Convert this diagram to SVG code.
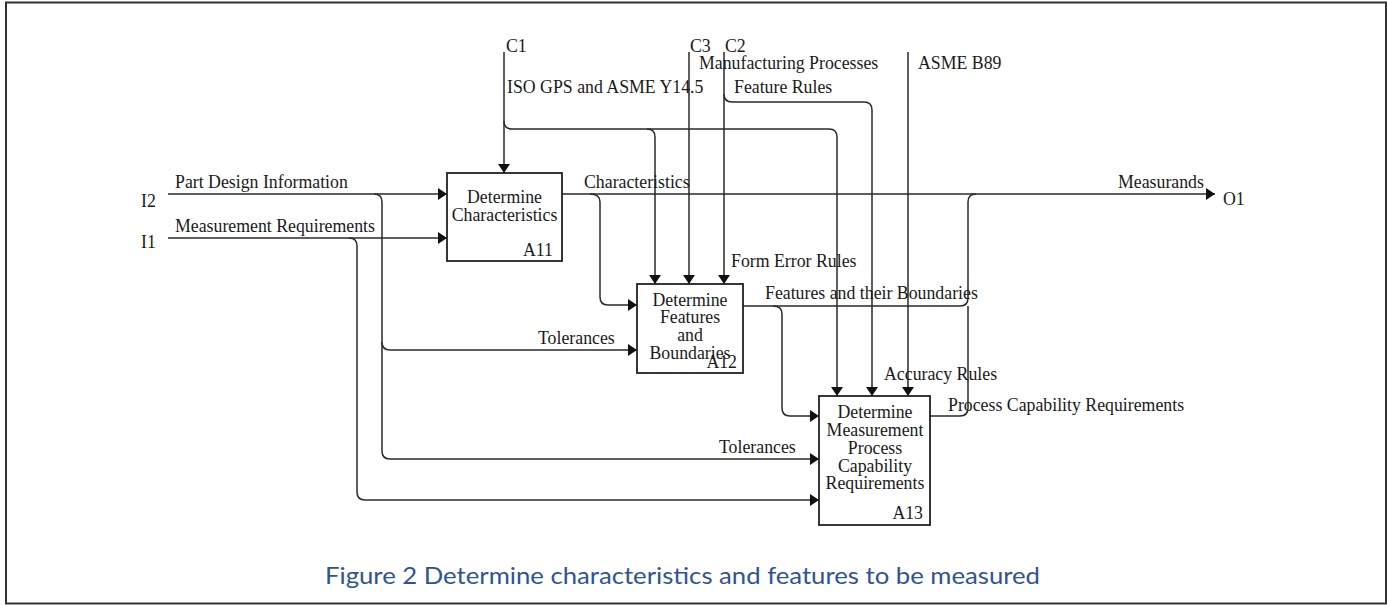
<svg xmlns="http://www.w3.org/2000/svg" width="1387" height="605" viewBox="0 0 1387 605">
<defs>
<marker id="ah" markerUnits="userSpaceOnUse" markerWidth="10" markerHeight="12" refX="9" refY="6" orient="auto">
<path d="M0,0 L9,6 L0,12 z" fill="#111"/>
</marker>
<style>
.t{font-family:"Liberation Serif","Times New Roman",serif;font-size:17.8px;fill:#1a1a1a}
.c{text-anchor:middle}
.r{text-anchor:end}
.box{fill:#fff;stroke:#222;stroke-width:1.8}
.ln{fill:none;stroke:#2a2a2a;stroke-width:1.5}
.arr{marker-end:url(#ah)}
.cap{font-family:"Lato","Open Sans","Liberation Sans",sans-serif;font-size:24px;fill:#2F5496}
</style>
</defs>
<rect x="0" y="0" width="1387" height="605" fill="#fff"/>
<rect x="6" y="2.5" width="1380" height="601" fill="none" stroke="#333" stroke-width="2"/>

<g id="connectors">
<path class="ln arr" d="M168,194 H447"/>
<path class="ln arr" d="M168,238 H447"/>
<path class="ln arr" d="M374,194 Q382,194 382,202 V451 Q382,459 390,459 H819"/>
<path class="ln arr" d="M382,342 Q382,350 390,350 H637"/>
<path class="ln arr" d="M349,238 Q357,238 357,246 V492 Q357,500 365,500 H819"/>
<path class="ln arr" d="M504,52 V173"/>
<path class="ln arr" d="M504,121 Q504,129 512,129 H647 Q655,129 655,137 V284"/>
<path class="ln arr" d="M647,129 H829 Q837,129 837,137 V396"/>
<path class="ln arr" d="M689,52 V284"/>
<path class="ln arr" d="M724,52 V284"/>
<path class="ln arr" d="M724,94 Q724,102 732,102 H864 Q872,102 872,110 V396"/>
<path class="ln arr" d="M908,52 V396"/>
<path class="ln arr" d="M562,194 H1215"/>
<path class="ln arr" d="M590,194 Q600,194 600,202 V297 Q600,305 608,305 H637"/>
<path class="ln" d="M743,306 H960 Q968,306 968,298 V202 Q968,194 976,194"/>
<path class="ln" d="M930,416 H960 Q968,416 968,408 V306"/>
<path class="ln arr" d="M773,306 Q782,306 782,314 V408 Q782,416 790,416 H819"/>
</g>

<g id="labels">
<text class="t" x="141" y="207">I2</text>
<text class="t" x="141" y="248">I1</text>
<text class="t" x="175" y="188">Part Design Information</text>
<text class="t" x="175" y="232">Measurement Requirements</text>
<text class="t" x="506" y="52">C1</text>
<text class="t" x="690" y="52">C3</text>
<text class="t" x="725" y="52">C2</text>
<text class="t" x="507" y="93">ISO GPS and ASME Y14.5</text>
<text class="t" x="699" y="69">Manufacturing Processes</text>
<text class="t" x="734" y="93">Feature Rules</text>
<text class="t" x="918" y="69">ASME B89</text>
<text class="t" x="584" y="188">Characteristics</text>
<text class="t" x="731" y="267">Form Error Rules</text>
<text class="t" x="1118" y="188">Measurands</text>
<text class="t" x="1223" y="205">O1</text>
<text class="t" x="765" y="299">Features and their Boundaries</text>
<text class="t" x="538" y="344">Tolerances</text>
<text class="t" x="719" y="453">Tolerances</text>
<text class="t" x="884" y="380">Accuracy Rules</text>
<text class="t" x="948" y="411">Process Capability Requirements</text>
</g>

<g id="A11">
<rect class="box" x="447" y="173" width="115" height="88"/>
<text class="t c" x="504.5" y="203">Determine</text>
<text class="t c" x="504.5" y="221">Characteristics</text>
<text class="t r" x="553" y="256">A11</text>
</g>

<g id="A12">
<rect class="box" x="637" y="284" width="106" height="89"/>
<text class="t c" x="690" y="306">Determine</text>
<text class="t c" x="690" y="323">Features</text>
<text class="t c" x="690" y="341">and</text>
<text class="t c" x="690" y="359">Boundaries</text>
<text class="t r" x="737" y="368">A12</text>
</g>

<g id="A13">
<rect class="box" x="819" y="396" width="111" height="129"/>
<text class="t c" x="875" y="418">Determine</text>
<text class="t c" x="875" y="436">Measurement</text>
<text class="t c" x="875" y="454">Process</text>
<text class="t c" x="875" y="472">Capability</text>
<text class="t c" x="875" y="489">Requirements</text>
<text class="t r" x="923" y="519">A13</text>
</g>

<text class="cap" x="325" y="584" textLength="715" lengthAdjust="spacingAndGlyphs">Figure 2 Determine characteristics and features to be measured</text>
</svg>
